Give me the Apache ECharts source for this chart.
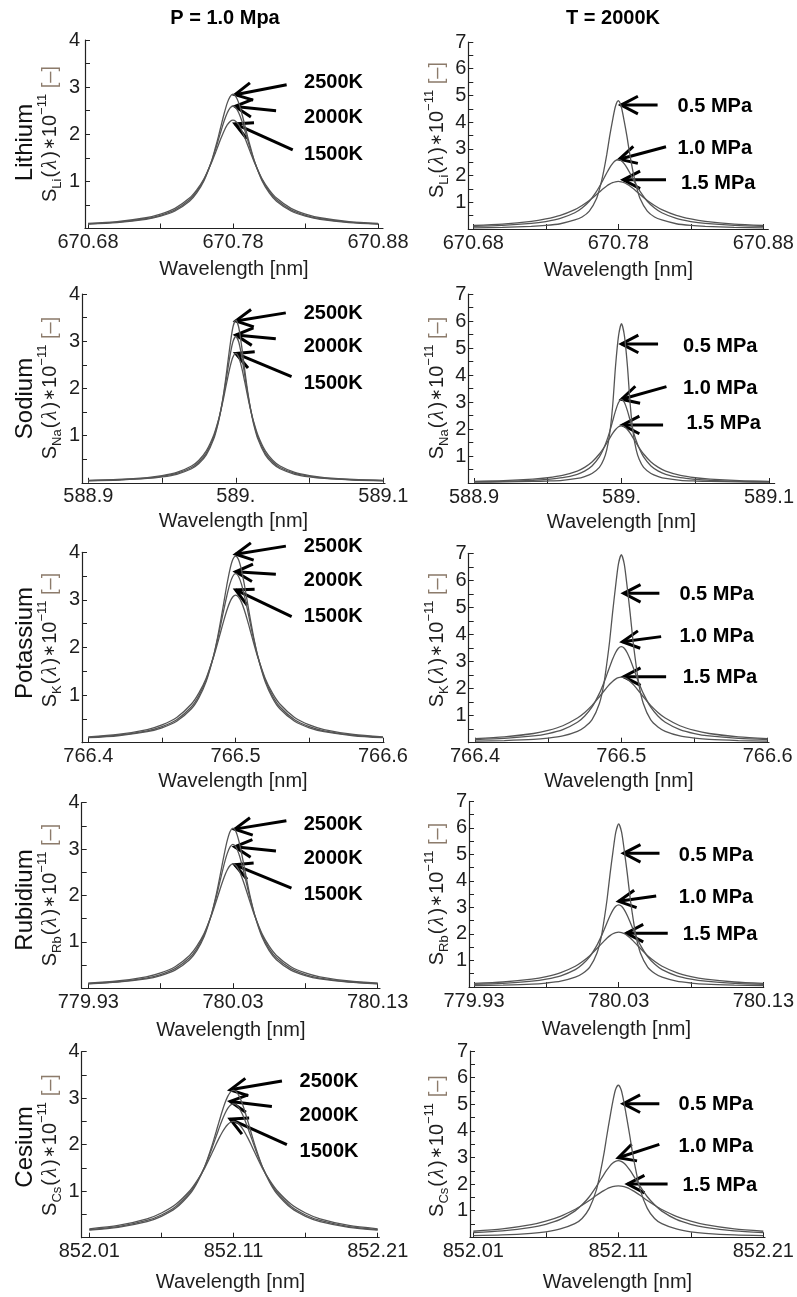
<!DOCTYPE html>
<html><head><meta charset="utf-8">
<script src="https://cdn.jsdelivr.net/npm/echarts@6/dist/echarts.min.js"></script>
<style>html,body{margin:0;padding:0;background:#fff}#c{width:797px;height:1297px}</style>
</head><body><div id="c"></div>
<script>
// ---------- DATA ----------
// wavelength offsets from the line centre [nm]
const OFFSET = [-0.1,-0.08,-0.06,-0.05,-0.04,-0.03,-0.025,-0.02,-0.015,-0.012,-0.01,-0.008,-0.006,-0.004,-0.002,0,0.002,0.004,0.006,0.008,0.01,0.012,0.015,0.02,0.025,0.03,0.04,0.05,0.06,0.08,0.1];

// Lithium
const LI_T2500 = [0.092,0.125,0.195,0.261,0.371,0.577,0.755,1.015,1.41,1.73,1.96,2.21,2.45,2.66,2.80,2.85,2.80,2.66,2.45,2.21,1.96,1.73,1.41,1.015,0.755,0.577,0.371,0.261,0.195,0.125,0.092];
const LI_T2000 = [0.097,0.134,0.209,0.28,0.395,0.608,0.786,1.038,1.408,1.686,1.89,2.095,2.29,2.45,2.56,2.6,2.56,2.45,2.29,2.095,1.89,1.686,1.408,1.038,0.786,0.608,0.395,0.28,0.209,0.134,0.097];
const LI_T1500 = [0.106,0.146,0.228,0.305,0.428,0.645,0.82,1.056,1.384,1.615,1.777,1.935,2.08,2.197,2.273,2.3,2.273,2.197,2.08,1.935,1.777,1.615,1.384,1.056,0.82,0.645,0.428,0.305,0.228,0.146,0.106];
const LI_P05 = [0.045,0.06,0.096,0.132,0.197,0.338,0.451,0.672,1.142,1.694,2.189,2.774,3.456,4.056,4.584,4.8,4.584,4.056,3.456,2.774,2.189,1.694,1.142,0.672,0.451,0.338,0.197,0.132,0.096,0.06,0.045];
const LI_P10 = LI_T2000; // same condition: 1.0 MPa, 2000 K
const LI_P15 = [0.131,0.183,0.284,0.375,0.511,0.727,0.882,1.068,1.295,1.436,1.526,1.609,1.679,1.734,1.768,1.78,1.768,1.734,1.679,1.609,1.526,1.436,1.295,1.068,0.882,0.727,0.511,0.375,0.284,0.183,0.131];

// Sodium
const NA_T2500 = [0.043,0.059,0.092,0.125,0.181,0.298,0.407,0.59,0.925,1.256,1.559,1.942,2.402,2.889,3.29,3.45,3.29,2.889,2.402,1.942,1.559,1.256,0.925,0.59,0.407,0.298,0.181,0.125,0.092,0.059,0.043];
const NA_T2000 = [0.046,0.064,0.1,0.137,0.198,0.324,0.44,0.63,0.967,1.286,1.565,1.905,2.291,2.68,2.983,3.1,2.983,2.68,2.291,1.905,1.565,1.286,0.967,0.63,0.44,0.324,0.198,0.137,0.1,0.064,0.046];
const NA_T1500 = [0.05,0.07,0.111,0.151,0.219,0.355,0.479,0.675,1.007,1.303,1.552,1.839,2.148,2.441,2.659,2.74,2.659,2.441,2.148,1.839,1.552,1.303,1.007,0.675,0.479,0.355,0.219,0.151,0.111,0.07,0.05];
const NA_P05 = [0.032,0.041,0.058,0.074,0.1,0.168,0.239,0.352,0.578,0.879,1.227,1.823,2.85,4.35,5.45,5.9,5.45,4.35,2.85,1.823,1.227,0.879,0.578,0.352,0.239,0.168,0.1,0.074,0.058,0.041,0.032];
const NA_P10 = NA_T2000;
const NA_P15 = [0.063,0.089,0.143,0.194,0.28,0.441,0.577,0.776,1.074,1.306,1.48,1.66,1.834,1.983,2.084,2.12,2.084,1.983,1.834,1.66,1.48,1.306,1.074,0.776,0.577,0.441,0.28,0.194,0.143,0.089,0.063];

// Potassium
const K_T2500 = [0.105,0.146,0.231,0.313,0.45,0.712,0.941,1.283,1.818,2.253,2.589,2.95,3.308,3.622,3.841,3.92,3.841,3.622,3.308,2.95,2.589,2.253,1.818,1.283,0.941,0.712,0.45,0.313,0.231,0.146,0.105];
const K_T2000 = [0.112,0.157,0.249,0.338,0.483,0.755,0.987,1.321,1.822,2.209,2.497,2.796,3.082,3.326,3.491,3.55,3.491,3.326,3.082,2.796,2.497,2.209,1.822,1.321,0.987,0.755,0.483,0.338,0.249,0.157,0.112];
const K_T1500 = [0.124,0.174,0.277,0.373,0.53,0.812,1.04,1.356,1.799,2.119,2.346,2.571,2.778,2.948,3.061,3.1,3.061,2.948,2.778,2.571,2.346,2.119,1.799,1.356,1.04,0.812,0.53,0.373,0.277,0.174,0.124];
const K_P05 = [0.06,0.08,0.12,0.17,0.25,0.42,0.58,0.85,1.45,2.15,2.9,3.75,4.8,5.75,6.6,6.95,6.6,5.75,4.8,3.75,2.9,2.15,1.45,0.85,0.58,0.42,0.25,0.17,0.12,0.08,0.06];
const K_P10 = K_T2000;
const K_P15 = [0.152,0.215,0.34,0.453,0.626,0.911,1.119,1.378,1.698,1.902,2.035,2.159,2.266,2.349,2.402,2.42,2.402,2.349,2.266,2.159,2.035,1.902,1.698,1.378,1.119,0.911,0.626,0.453,0.34,0.215,0.152];

// Rubidium
const RB_T2500 = [0.094,0.129,0.202,0.273,0.39,0.614,0.811,1.107,1.575,1.959,2.256,2.578,2.898,3.181,3.379,3.45,3.379,3.181,2.898,2.578,2.256,1.959,1.575,1.107,0.811,0.614,0.39,0.273,0.202,0.129,0.094];
const RB_T2000 = [0.101,0.139,0.219,0.295,0.421,0.655,0.855,1.145,1.581,1.919,2.172,2.434,2.687,2.902,3.048,3.1,3.048,2.902,2.687,2.434,2.172,1.919,1.581,1.145,0.855,0.655,0.421,0.295,0.219,0.139,0.101];
const RB_T1500 = [0.111,0.155,0.245,0.329,0.464,0.707,0.905,1.177,1.56,1.836,2.031,2.225,2.404,2.55,2.646,2.68,2.646,2.55,2.404,2.225,2.031,1.836,1.56,1.177,0.905,0.707,0.464,0.329,0.245,0.155,0.111];
const RB_P05 = [0.053,0.071,0.106,0.15,0.22,0.37,0.51,0.75,1.285,1.9,2.56,3.32,4.25,5.09,5.84,6.15,5.84,5.09,4.25,3.32,2.56,1.9,1.285,0.75,0.51,0.37,0.22,0.15,0.106,0.071,0.053];
const RB_P10 = RB_T2000;
const RB_P15 = [0.134,0.188,0.295,0.391,0.539,0.781,0.959,1.179,1.452,1.627,1.741,1.847,1.938,2.009,2.054,2.07,2.054,2.009,1.938,1.847,1.741,1.627,1.452,1.179,0.959,0.781,0.539,0.391,0.295,0.188,0.134];

// Cesium
const CS_T2500 = [0.163,0.224,0.346,0.46,0.637,0.95,1.196,1.525,1.973,2.284,2.497,2.704,2.89,3.039,3.136,3.17,3.136,3.039,2.89,2.704,2.497,2.284,1.973,1.525,1.196,0.95,0.637,0.46,0.346,0.224,0.163];
const CS_T2000 = [0.174,0.239,0.37,0.489,0.672,0.984,1.22,1.524,1.919,2.181,2.356,2.521,2.666,2.781,2.855,2.88,2.855,2.781,2.666,2.521,2.356,2.181,1.919,1.524,1.22,0.984,0.672,0.489,0.37,0.239,0.174];
const CS_T1500 = [0.191,0.263,0.405,0.532,0.719,1.021,1.236,1.496,1.815,2.014,2.141,2.258,2.358,2.435,2.483,2.5,2.483,2.435,2.358,2.258,2.141,2.014,1.815,1.496,1.236,1.021,0.719,0.532,0.405,0.263,0.191];
const CS_P05 = [0.066,0.09,0.149,0.206,0.315,0.515,0.709,1.087,1.802,2.54,3.112,3.787,4.433,5.045,5.537,5.72,5.537,5.045,4.433,3.787,3.112,2.54,1.802,1.087,0.709,0.515,0.315,0.206,0.149,0.09,0.066];
const CS_P10 = CS_T2000;
const CS_P15 = [0.227,0.313,0.473,0.606,0.788,1.046,1.208,1.383,1.579,1.689,1.756,1.815,1.864,1.9,1.922,1.93,1.922,1.9,1.864,1.815,1.756,1.689,1.579,1.383,1.208,1.046,0.788,0.606,0.473,0.313,0.227];

// line centres and tick labels
const CENTRES = [670.78, 589.0, 766.5, 780.03, 852.11];
const ELEMENTS = ['Lithium','Sodium','Potassium','Rubidium','Cesium'];
const SYMBOLS = ['Li','Na','K','Rb','Cs'];
const TICKS_LI = ['670.68','670.78','670.88'];
const TICKS_NA = ['588.9','589.','589.1'];
const TICKS_K  = ['766.4','766.5','766.6'];
const TICKS_RB = ['779.93','780.03','780.13'];
const TICKS_CS = ['852.01','852.11','852.21'];
const T_LABELS = ['2500K','2000K','1500K'];
const P_LABELS = ['0.5 MPa','1.0 MPa','1.5 MPa'];

// annotation arrows [tipOffset, tipY, tailOffset, tailY, labelOffset, labelY]
const ARROWS_T = [
  [[0.0014,2.84,0.037,3.05,0.049,3.09],[0.0014,2.59,0.0297,2.5,0.049,2.35],[0.0014,2.22,0.0412,1.67,0.049,1.57]],
  [[0,3.43,0.0339,3.60,0.046,3.59],[0,3.13,0.0271,3.05,0.046,2.88],[0,2.74,0.0378,2.25,0.046,2.11]],
  [[0,3.96,0.0341,4.13,0.0463,4.12],[0,3.59,0.0273,3.54,0.0463,3.40],[0,3.21,0.038,2.65,0.0463,2.65]],
  [[0.0012,3.43,0.0369,3.61,0.0489,3.52],[0.0012,3.05,0.0297,2.96,0.0489,2.79],[0.0012,2.66,0.0404,2.16,0.0489,2.02]],
  [[-0.0023,3.18,0.0336,3.37,0.0458,3.36],[-0.0023,2.93,0.0266,2.82,0.0458,2.63],[-0.0023,2.55,0.037,2.0,0.0458,1.86]]
];
const ARROWS_P = [
  [[0.0019,4.64,0.0271,4.64,0.0409,4.58],[0.0007,2.61,0.0329,3.08,0.0409,3.02],[0.0034,1.84,0.0329,1.84,0.0432,1.71]],
  [[0,5.15,0.0248,5.15,0.0417,5.07],[0,3.1,0.0305,3.57,0.0417,3.51],[0.0007,2.15,0.0282,2.15,0.044,2.19]],
  [[0.0016,5.52,0.026,5.52,0.0397,5.46],[0.0007,3.73,0.0272,3.92,0.0397,3.92],[0.0016,2.44,0.0306,2.44,0.0419,2.42]],
  [[0.0034,5.04,0.0282,5.04,0.0415,4.97],[0,3.23,0.0259,3.43,0.0415,3.39],[0.0053,2.03,0.0339,2.03,0.0443,1.97]],
  [[0.0034,5.02,0.0283,5.02,0.0416,4.98],[0,2.99,0.0283,3.49,0.0416,3.43],[0.0064,2.0,0.034,2.0,0.0443,1.93]]
];

// ---------- LAYOUT ----------
// [left, top, width, height, xminOffset, xmaxOffset]
const LAYOUT_L = [[85,40,298,188.5,-0.10207,0.10345],[82,294,303,188.8,-0.10427,0.10115],[82,552.3,302,190.4,-0.10428,0.1007],[81.7,802.7,298.3,185.5,-0.10456,0.1016],[81.7,1051.7,297.6,186,-0.10527,0.1011]];
const LAYOUT_R = [[468.3,42,300,187,-0.10345,0.10345],[468.3,294,306.7,189,-0.10386,0.10386],[468.7,553.3,300.3,189.4,-0.1043,0.1009],[469,801.4,296,185.6,-0.10344,0.1002],[470,1051,295,186.3,-0.10228,0.10117]];
const NAME_GAP = [31,29,29,32,35];
const YMARGIN_L = [5,2,2,2,2];
const ELEMENT_Y = [142.5,398.5,643,900,1147];
const SLABEL_L_Y = [134,388,640,895,1145];
const SLABEL_R_Y = [130,388,640,894,1146];

const FONT = "'Liberation Sans', Arial, Helvetica, sans-serif";
const TXT = '#1e1e1e', AXIS = '#222', LINE = '#555';

const ROWS = [
  {ticks:TICKS_LI, T:[LI_T2500,LI_T2000,LI_T1500], P:[LI_P05,LI_P10,LI_P15]},
  {ticks:TICKS_NA, T:[NA_T2500,NA_T2000,NA_T1500], P:[NA_P05,NA_P10,NA_P15]},
  {ticks:TICKS_K,  T:[K_T2500,K_T2000,K_T1500],   P:[K_P05,K_P10,K_P15]},
  {ticks:TICKS_RB, T:[RB_T2500,RB_T2000,RB_T1500], P:[RB_P05,RB_P10,RB_P15]},
  {ticks:TICKS_CS, T:[CS_T2500,CS_T2000,CS_T1500], P:[CS_P05,CS_P10,CS_P15]}
];

function arrowRenderer(labels){
  return function(params, api){
    const tip = api.coord([api.value(0), api.value(1)]);
    const tail = api.coord([api.value(2), api.value(3)]);
    const lab = api.coord([api.value(4), api.value(5)]);
    const ang = Math.atan2(tail[1]-tip[1], tail[0]-tip[0]);
    const HL = 19, HA = 0.48;
    const a1 = [tip[0]+HL*Math.cos(ang+HA), tip[1]+HL*Math.sin(ang+HA)];
    const a2 = [tip[0]+HL*Math.cos(ang-HA), tip[1]+HL*Math.sin(ang-HA)];
    return {type:'group', children:[
      {type:'line', shape:{x1:tail[0],y1:tail[1],x2:tip[0],y2:tip[1]}, style:{stroke:'#000',lineWidth:3}},
      {type:'polyline', shape:{points:[a1,tip,a2]}, style:{stroke:'#000',lineWidth:3,fill:'none'}},
      {type:'text', x:lab[0], y:lab[1], style:{text:labels[params.dataIndex], font:"bold 20px "+FONT, fill:'#000', align:'left', verticalAlign:'middle', textAlign:'left', textVerticalAlign:'middle'}}
    ]};
  };
}

const grid=[], xAxis=[], yAxis=[], series=[], graphic=[];
ROWS.forEach((r, i) => {
  const c = CENTRES[i];
  [0,1].forEach(side => {
    const g = i*2 + side;
    const L = (side===0 ? LAYOUT_L : LAYOUT_R)[i];
    grid.push({left:L[0], top:L[1], width:L[2], height:L[3]});
    xAxis.push({
      type:'value', gridIndex:g, min:c+L[4], max:c+L[5],
      axisLine:{show:true, onZero:false, lineStyle:{color:AXIS, width:1.2}},
      axisTick:{show:true, inside:true, length:5, customValues:[c-0.1,c-0.05,c,c+0.05,c+0.1], lineStyle:{color:AXIS, width:1}},
      axisLabel:{customValues:[c-0.1,c,c+0.1], formatter:v => r.ticks[Math.round((v-c)/0.1)+1], margin:4, fontSize:20, fontFamily:FONT, color:TXT},
      splitLine:{show:false},
      name:'Wavelength [nm]', nameLocation:'middle', nameGap:NAME_GAP[i],
      nameTextStyle:{fontSize:20, fontFamily:FONT, color:TXT}
    });
    yAxis.push({
      type:'value', gridIndex:g, min:0, max:(side===0?4:7), interval:0.5,
      axisLine:{show:true, onZero:false, lineStyle:{color:AXIS, width:1.2}},
      axisTick:{show:true, inside:true, length:5, lineStyle:{color:AXIS, width:1}},
      axisLabel:{formatter:v => (v>0 && Math.abs(v-Math.round(v))<1e-9) ? String(Math.round(v)) : '',
        margin:(side===0?YMARGIN_L[i]:2), fontSize:20, fontFamily:FONT, color:TXT},
      splitLine:{show:false}
    });
    const curves = side===0 ? r.T : r.P;
    curves.forEach(arr => series.push({
      type:'line', xAxisIndex:g, yAxisIndex:g, showSymbol:false, smooth:0.25, silent:true,
      lineStyle:{color:LINE, width:1.3},
      data: OFFSET.map((o,k) => [c+o, arr[k]])
    }));
    const arrows = side===0 ? ARROWS_T[i] : ARROWS_P[i];
    series.push({
      type:'custom', coordinateSystem:'cartesian2d', xAxisIndex:g, yAxisIndex:g, clip:false, silent:true,
      encode:{x:0, y:1},
      data: arrows.map(a => [c+a[0], a[1], c+a[2], a[3], c+a[4], a[5]]),
      renderItem: arrowRenderer(side===0 ? T_LABELS : P_LABELS)
    });
  });

  // rotated y-axis titles
  graphic.push({type:'text', x:25.5, y:ELEMENT_Y[i], rotation:Math.PI/2,
    style:{text:ELEMENTS[i], font:"24px "+FONT, fill:'#111', align:'center', verticalAlign:'middle', textAlign:'center', textVerticalAlign:'middle'}});
  const sTxt = '{s|S}{sub|' + SYMBOLS[i] + '}{p|(}{lam|λ}{p|)}{ast|∗}{n|10}{sup|−11}{br| [–]}';
  const rich = {
    s:{fontSize:20, fontFamily:FONT, fill:TXT, lineHeight:28, verticalAlign:'middle'},
    sub:{fontSize:13, fontFamily:FONT, fill:TXT, lineHeight:13, verticalAlign:'bottom'},
    p:{fontSize:20, fontFamily:FONT, fill:TXT, lineHeight:28, verticalAlign:'middle', padding:[0,1,0,1]},
    lam:{fontSize:21, fontFamily:"'Liberation Serif', serif", fontStyle:'italic', fill:TXT, lineHeight:28, verticalAlign:'middle', padding:[0,1,0,1]},
    ast:{fontSize:15, fontFamily:FONT, fill:TXT, lineHeight:28, verticalAlign:'middle'},
    n:{fontSize:20, fontFamily:FONT, fill:TXT, lineHeight:28, verticalAlign:'middle'},
    sup:{fontSize:13, fontFamily:FONT, fill:TXT, lineHeight:13, verticalAlign:'top'},
    br:{fontSize:20, fontFamily:FONT, fill:'#8c7b6b', lineHeight:28, verticalAlign:'middle'}
  };
  [[50, SLABEL_L_Y[i]], [437, SLABEL_R_Y[i]]].forEach(p => graphic.push({
    type:'text', x:p[0], y:p[1], rotation:Math.PI/2,
    style:{text:sTxt, rich:rich, align:'center', verticalAlign:'middle', textAlign:'center', textVerticalAlign:'middle'}
  }));
});

graphic.push({type:'text', x:225, y:18, style:{text:'P = 1.0 Mpa', font:"bold 20px "+FONT, fill:'#000', align:'center', verticalAlign:'middle', textAlign:'center', textVerticalAlign:'middle'}});
graphic.push({type:'text', x:613, y:18, style:{text:'T = 2000K', font:"bold 20px "+FONT, fill:'#000', align:'center', verticalAlign:'middle', textAlign:'center', textVerticalAlign:'middle'}});

const chart = echarts.init(document.getElementById('c'), null, {renderer:'canvas'});
chart.setOption({animation:false, backgroundColor:'#fff', grid, xAxis, yAxis, series, graphic});
</script>
</body></html>
